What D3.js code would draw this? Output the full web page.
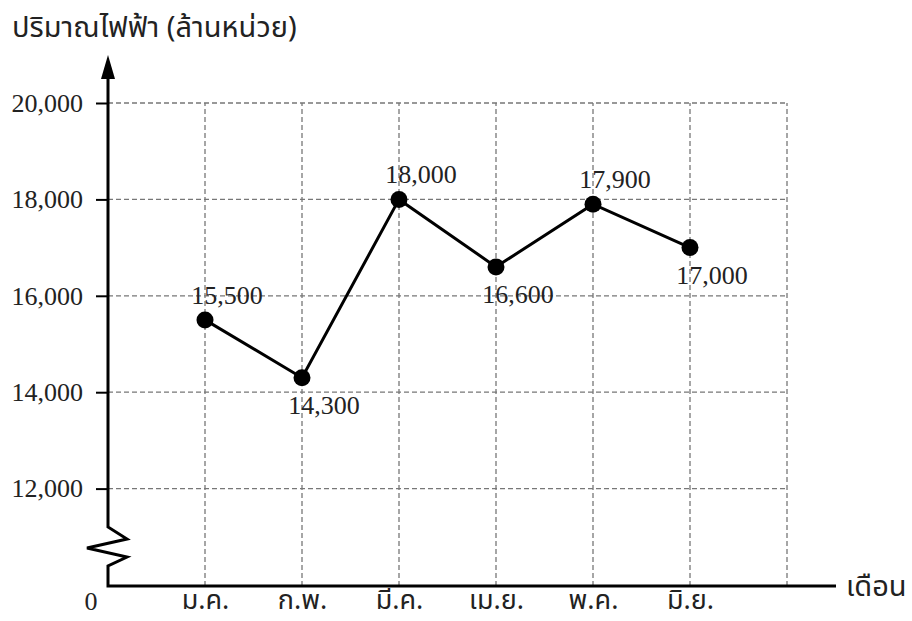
<!DOCTYPE html>
<html>
<head>
<meta charset="utf-8">
<script src="https://cdn.jsdelivr.net/npm/d3@7"></script>
<style>
  body { margin: 0; background: #fff; }
  .thai { font-family: "Noto Sans Thai", "Noto Sans", "DejaVu Sans", sans-serif; }
  .num { font-family: "Liberation Serif", "DejaVu Serif", serif; }
</style>
</head>
<body>
<svg id="chart"></svg>
<script>
const months = ['ม.ค.', 'ก.พ.', 'มี.ค.', 'เม.ย.', 'พ.ค.', 'มิ.ย.'];
const values = [15500, 14300, 18000, 16600, 17900, 17000];
const labelAbove = [true, false, true, false, true, false];
const yTicks = [12000, 14000, 16000, 18000, 20000];
const yTitle = 'ปริมาณไฟฟ้า (ล้านหน่วย)';
const xTitle = 'เดือน';

const width = 912, height = 621;
const x0 = 108, y0 = 586;

const svg = d3.select('#chart')
  .attr('width', width)
  .attr('height', height);

// month slots 1..6, slot 7 is an empty column
const x = d3.scaleLinear().domain([0, 7]).range([x0, 787]);
// axis is broken below 12,000, so the bottom sits at 10,000
const y = d3.scaleLinear().domain([10000, 20000]).range([585, 103]);

const grid = svg.append('g')
  .attr('stroke', '#777')
  .attr('stroke-width', 1.3)
  .attr('stroke-dasharray', '5,3');

grid.selectAll('.hg')
  .data(yTicks)
  .enter().append('line')
  .attr('x1', x0).attr('x2', x(7))
  .attr('y1', d => y(d)).attr('y2', d => y(d));

grid.selectAll('.vg')
  .data(d3.range(1, 8))
  .enter().append('line')
  .attr('x1', d => x(d)).attr('x2', d => x(d))
  .attr('y1', y0).attr('y2', y(20000));

// y axis ticks and labels
const yAxis = svg.append('g')
  .attr('transform', `translate(${x0},0)`)
  .call(d3.axisLeft(y).tickValues(yTicks).tickSize(12).tickPadding(13)
    .tickFormat(d3.format(',')));
yAxis.select('.domain').remove();
yAxis.selectAll('line').attr('stroke', '#000').attr('stroke-width', 2);
yAxis.selectAll('text')
  .attr('class', 'num')
  .style('font-size', '26px')
  .attr('fill', '#222');

// month labels
const xAxis = svg.append('g')
  .attr('transform', `translate(0,${y0})`)
  .call(d3.axisBottom(x).tickValues(d3.range(1, 7)).tickSize(0)
    .tickFormat(d => months[d - 1]));
xAxis.select('.domain').remove();
xAxis.selectAll('text')
  .attr('class', 'thai')
  .attr('dy', null)
  .attr('y', 23)
  .style('font-size', '27px')
  .attr('fill', '#222');

// axis lines with the break zigzag
const axisPath = d3.path();
axisPath.moveTo(x0, y(20000) - 30);
axisPath.lineTo(x0, 527);
axisPath.lineTo(127, 539);
axisPath.lineTo(87, 548);
axisPath.lineTo(127, 557);
axisPath.lineTo(x0, 566);
axisPath.lineTo(x0, y0);
axisPath.lineTo(836, y0);
svg.append('path')
  .attr('d', axisPath.toString())
  .attr('fill', 'none')
  .attr('stroke', '#000')
  .attr('stroke-width', 3);

// arrowhead on y axis
svg.append('path')
  .attr('d', `M${x0},55 L${x0 - 7},79 L${x0 + 7},79 Z`)
  .attr('fill', '#000');

svg.append('text')
  .attr('class', 'num')
  .attr('x', 91).attr('y', 610)
  .attr('text-anchor', 'middle')
  .style('font-size', '26px')
  .attr('fill', '#222')
  .text('0');

svg.append('text')
  .attr('class', 'thai')
  .attr('x', 12).attr('y', 37)
  .style('font-size', '29px')
  .attr('fill', '#222')
  .text(yTitle);

svg.append('text')
  .attr('class', 'thai')
  .attr('x', 846).attr('y', 596)
  .style('font-size', '29px')
  .attr('fill', '#222')
  .text(xTitle);

// data line and points
const line = d3.line()
  .x((d, i) => x(i + 1))
  .y(d => y(d));

svg.append('path')
  .datum(values)
  .attr('d', line)
  .attr('fill', 'none')
  .attr('stroke', '#000')
  .attr('stroke-width', 3);

svg.selectAll('.pt')
  .data(values)
  .enter().append('circle')
  .attr('cx', (d, i) => x(i + 1))
  .attr('cy', d => y(d))
  .attr('r', 8.5)
  .attr('fill', '#000');

svg.selectAll('.lbl')
  .data(values)
  .enter().append('text')
  .attr('class', 'num')
  .attr('x', (d, i) => x(i + 1) + 22)
  .attr('y', (d, i) => y(d) + (labelAbove[i] ? -16 : 36))
  .attr('text-anchor', 'middle')
  .style('font-size', '26px')
  .attr('fill', '#222')
  .text(d => d3.format(',')(d));
</script>
</body>
</html>
